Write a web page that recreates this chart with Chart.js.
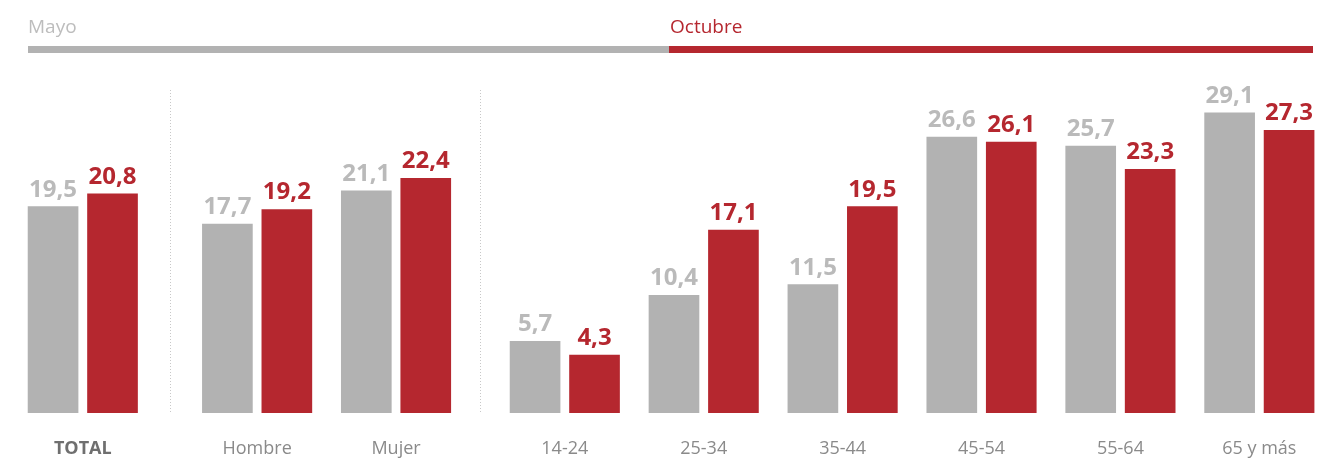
<!DOCTYPE html>
<html>
<head>
<meta charset="utf-8">
<script src="https://cdn.jsdelivr.net/npm/chart.js@4.4.1/dist/chart.umd.min.js"></script>
<style>
  html, body { margin: 0; padding: 0; background: #fff; }
  #wrap { position: relative; width: 1332px; height: 459px; }
</style>
</head>
<body>
<div id="wrap"><canvas id="barChart"></canvas></div>
<script>
const categories = ['TOTAL', 'Hombre', 'Mujer', '14-24', '25-34', '35-44', '45-54', '55-64', '65 y más'];
const mayo = [19.5, 17.7, 21.1, 5.7, 10.4, 11.5, 26.6, 25.7, 29.1];
const octubre = [20.8, 19.2, 22.4, 4.3, 17.1, 19.5, 26.1, 23.3, 27.3];
const periods = ['Mayo', 'Octubre'];

// blocks: total / sexo / edad, with a bit of extra room between them
const blockStarts = [0, 1, 3];
const blockGaps = [0, 0.255, 0.215];

const GRAY = '#b2b2b2';
const RED = '#b5272f';
const FONT = '"Open Sans", "Noto Sans", sans-serif';
const Y_MIN = -1.64; // bars in the original don't start at zero

// group centre on the x axis
const pos = [];
let extra = 0;
categories.forEach((c, i) => {
  const b = blockStarts.indexOf(i);
  if (b > 0) extra += blockGaps[b];
  pos.push(i + extra);
});
const half = 0.214;

const fmt = v => v.toFixed(1).replace('.', ',');

// numbers above the bars
const valueLabels = {
  id: 'valueLabels',
  afterDatasetsDraw(chart) {
    const ctx = chart.ctx;
    ctx.save();
    ctx.textAlign = 'center';
    ctx.textBaseline = 'alphabetic';
    ctx.font = '700 24px ' + FONT;
    chart.data.datasets.forEach((ds, di) => {
      const meta = chart.getDatasetMeta(di);
      ctx.fillStyle = di === 0 ? '#bababa' : RED;
      meta.data.forEach((bar, i) => {
        ctx.fillText(fmt(ds.data[i].y), bar.x, bar.y - 10);
      });
    });
    ctx.restore();
  }
};

// dotted separators between blocks
const separators = {
  id: 'separators',
  beforeDatasetsDraw(chart) {
    const ctx = chart.ctx;
    const x = chart.scales.x;
    ctx.save();
    ctx.strokeStyle = '#c8c8c8';
    ctx.lineWidth = 1;
    ctx.setLineDash([1, 2]);
    blockStarts.slice(1).forEach(s => {
      const px = Math.round(x.getPixelForValue((pos[s - 1] + pos[s]) / 2)) + 0.5;
      ctx.beginPath();
      ctx.moveTo(px, 90);
      ctx.lineTo(px, chart.chartArea.bottom);
      ctx.stroke();
    });
    ctx.restore();
  }
};

// Mayo / Octubre strip on top
const header = {
  id: 'header',
  afterDraw(chart) {
    const ctx = chart.ctx;
    ctx.save();
    ctx.font = '500 19px ' + FONT;
    ctx.textBaseline = 'alphabetic';
    ctx.fillStyle = '#bdbdbd';
    ctx.fillText(periods[0], 28, 33);
    ctx.fillStyle = RED;
    ctx.fillText(periods[1], 670, 33);
    ctx.fillStyle = GRAY;
    ctx.fillRect(28, 46, 641, 7);
    ctx.fillStyle = RED;
    ctx.fillRect(669, 46, 644, 7);
    ctx.restore();
  }
};

new Chart(document.getElementById('barChart'), {
  type: 'bar',
  data: {
    datasets: [{
      label: periods[0],
      data: mayo.map((v, i) => ({ x: pos[i] - half, y: v })),
      backgroundColor: GRAY
    }, {
      label: periods[1],
      data: octubre.map((v, i) => ({ x: pos[i] + half, y: v })),
      backgroundColor: RED
    }]
  },
  options: {
    responsive: true,
    maintainAspectRatio: false,
    animation: false,
    grouped: false,
    barThickness: 50,
    borderWidth: 0,
    base: Y_MIN,
    layout: { padding: { top: 104, left: 0, right: 0, bottom: 0 } },
    plugins: {
      legend: { display: false },
      tooltip: { enabled: false }
    },
    scales: {
      x: {
        type: 'linear',
        offset: false,
        min: -0.596,
        max: 8.993,
        grid: { display: false, drawTicks: false },
        border: { display: false },
        afterBuildTicks: s => { s.ticks = pos.map(v => ({ value: v })); },
        afterFit: s => { s.height = 46; },
        ticks: {
          autoSkip: false,
          maxRotation: 0,
          padding: 25,
          callback: (v, i) => categories[i],
          color: c => c.index === 0 ? '#6f6f6f' : '#8a8a8a',
          font: c => ({ family: FONT, size: 18, weight: c.index === 0 ? '700' : '400' })
        }
      },
      y: {
        display: false,
        min: Y_MIN,
        max: 30
      }
    }
  },
  plugins: [separators, valueLabels, header]
});
</script>
</body>
</html>
